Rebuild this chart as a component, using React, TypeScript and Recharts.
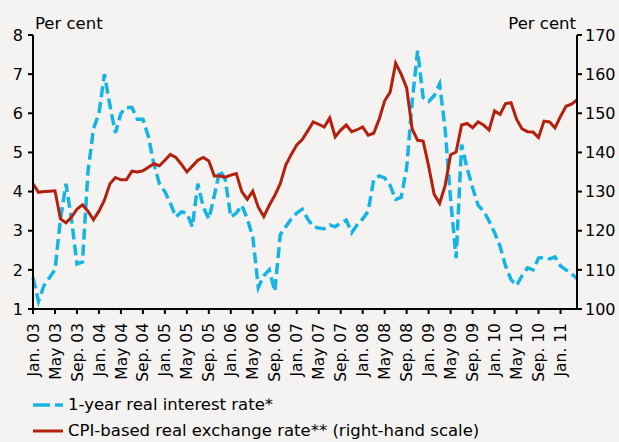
import { LineChart, Line, XAxis, YAxis } from 'recharts';

const MONTHS = ['Jan.', 'Feb.', 'Mar.', 'Apr.', 'May', 'June', 'July', 'Aug.', 'Sep.', 'Oct.', 'Nov.', 'Dec.'];
const YEARS = ['03', '04', '05', '06', '07', '08', '09', '10', '11'];

// 1-year real interest rate, per cent (left scale), Jan. 03 - Apr. 11
const interestRate = [
  1.8, 1.2, 1.6, 1.8, 2.0, 3.3, 4.2, 3.3, 2.15, 2.2, 4.5, 5.6,
  6.0, 7.0, 6.2, 5.5, 6.0, 6.15, 6.15, 5.85, 5.85, 5.4, 4.7, 4.2,
  4.0, 3.7, 3.35, 3.48, 3.45, 3.1, 4.2, 3.6, 3.3, 3.9, 4.55, 4.3,
  3.35, 3.45, 3.65, 3.3, 2.85, 1.55, 1.85, 2.0, 1.45, 2.9, 3.1, 3.3,
  3.45, 3.55, 3.3, 3.1, 3.07, 3.05, 3.15, 3.1, 3.2, 3.27, 2.95, 3.15,
  3.3, 3.5, 4.3, 4.4, 4.35, 4.15, 3.8, 3.85, 4.6, 6.3, 7.6, 6.4,
  6.3, 6.45, 6.75, 5.6, 3.8, 2.3, 5.2, 4.6, 4.1, 3.65, 3.5, 3.25,
  2.95, 2.6, 2.1, 1.75, 1.6, 1.85, 2.05, 2.0, 2.3, 2.32, 2.28, 2.33,
  2.1, 2.0, 1.9, 1.78,
];

// CPI-based real exchange rate (right scale)
const exchangeRate = [
  132.0, 129.8, 130.0, 130.1, 130.2, 123.0, 122.0, 123.5, 125.5, 126.6, 125.0, 122.8,
  125.0, 127.8, 132.0, 133.6, 133.0, 133.0, 135.2, 135.0, 135.3, 136.2, 137.1, 136.6,
  138.0, 139.5, 138.7, 137.0, 135.0, 136.5, 138.0, 138.7, 137.8, 134.0, 134.0, 133.7,
  134.2, 134.6, 130.0, 128.0, 130.1, 126.0, 123.6, 126.5, 129.0, 132.0, 136.8, 139.5,
  141.9, 143.3, 145.5, 147.8, 147.2, 146.5, 148.8, 144.0, 145.7, 147.0, 145.3, 145.8,
  146.5, 144.4, 144.9, 148.5, 153.2, 155.4, 162.8, 160.0, 156.5, 146.0, 143.1, 142.9,
  136.5, 129.3, 127.0, 131.5, 139.4, 140.1, 147.0, 147.4, 146.3, 147.8, 147.0, 145.7,
  150.6, 149.7, 152.5, 152.7, 148.5, 146.0, 145.3, 145.2, 143.8, 148.0, 147.8, 146.3,
  149.2, 151.8, 152.3, 153.4,
];

const tickLabels = [
  'Jan. 03', 'May 03', 'Sep. 03', 'Jan. 04', 'May 04', 'Sep. 04', 'Jan. 05', 'May 05',
  'Sep. 05', 'Jan. 06', 'May 06', 'Sep. 06', 'Jan. 07', 'May 07', 'Sep. 07', 'Jan. 08',
  'May 08', 'Sep. 08', 'Jan. 09', 'May 09', 'Sep. 09', 'Jan. 10', 'May 10', 'Sep. 10', 'Jan. 11',
];
const leftTicks = [1, 2, 3, 4, 5, 6, 7, 8];
const rightTicks = [100, 110, 120, 130, 140, 150, 160, 170];

const data = interestRate.map((v, i) => ({
  month: `${MONTHS[i % 12]} ${YEARS[Math.floor(i / 12)]}`,
  rate: v,
  rer: exchangeRate[i],
}));

const FONT = '"DejaVu Sans", sans-serif';
const BLUE = '#14b4e4';
const RED = '#b3200e';

const XTick = ({ x, y, payload }: any) => (
  <g transform={`translate(${x},${y})`}>
    <text transform="rotate(-90)" textAnchor="end" dy="0.36em" fontSize={15.5} fontFamily={FONT} fill="#000">
      {payload.value}
    </text>
  </g>
);

export default function App() {
  const tickStyle = { fontSize: 16, fontFamily: FONT, fill: '#000' };
  return (
    <div style={{ position: 'absolute', left: 0, top: 0, width: 619, height: 442, background: '#f5f3f1', fontFamily: FONT }}>
      <LineChart width={619} height={442} data={data} margin={{ top: 35, right: 0, bottom: 0, left: 0 }}>
        <XAxis
          dataKey="month"
          ticks={tickLabels}
          interval={0}
          height={133}
          tick={<XTick />}
          tickSize={5}
          tickMargin={9}
          axisLine={{ stroke: '#000', strokeWidth: 2 }}
          tickLine={{ stroke: '#000', strokeWidth: 2 }}
        />
        <YAxis
          yAxisId="left"
          domain={[1, 8]}
          ticks={leftTicks}
          width={33}
          tick={tickStyle}
          tickSize={5}
          tickMargin={5}
          axisLine={{ stroke: '#000', strokeWidth: 2 }}
          tickLine={{ stroke: '#000', strokeWidth: 2 }}
        />
        <YAxis
          yAxisId="right"
          orientation="right"
          domain={[100, 170]}
          ticks={rightTicks}
          width={42}
          tick={tickStyle}
          tickSize={5}
          tickMargin={3}
          axisLine={{ stroke: '#000', strokeWidth: 2 }}
          tickLine={{ stroke: '#000', strokeWidth: 2 }}
        />
        <Line yAxisId="left" dataKey="rate" stroke={BLUE} strokeWidth={3.5} strokeDasharray="11 5" dot={false} isAnimationActive={false} />
        <Line yAxisId="right" dataKey="rer" stroke={RED} strokeWidth={3} dot={false} isAnimationActive={false} />
      </LineChart>

      <div style={{ position: 'absolute', left: 35, top: 14, fontSize: 16.5 }}>Per cent</div>
      <div style={{ position: 'absolute', right: 43, top: 14, fontSize: 16.5 }}>Per cent</div>

      <div style={{ position: 'absolute', left: 33, top: 392, fontSize: 16.5, lineHeight: '26px' }}>
        <div style={{ display: 'flex', alignItems: 'center' }}>
          <svg width={35} height={10}>
            <line x1={0} y1={5} x2={30} y2={5} stroke={BLUE} strokeWidth={3.5} strokeDasharray="17 5" />
          </svg>
          <span>1-year real interest rate*</span>
        </div>
        <div style={{ display: 'flex', alignItems: 'center' }}>
          <svg width={35} height={10}>
            <line x1={0} y1={5} x2={30} y2={5} stroke={RED} strokeWidth={3} />
          </svg>
          <span>CPI-based real exchange rate** (right-hand scale)</span>
        </div>
      </div>
    </div>
  );
}
